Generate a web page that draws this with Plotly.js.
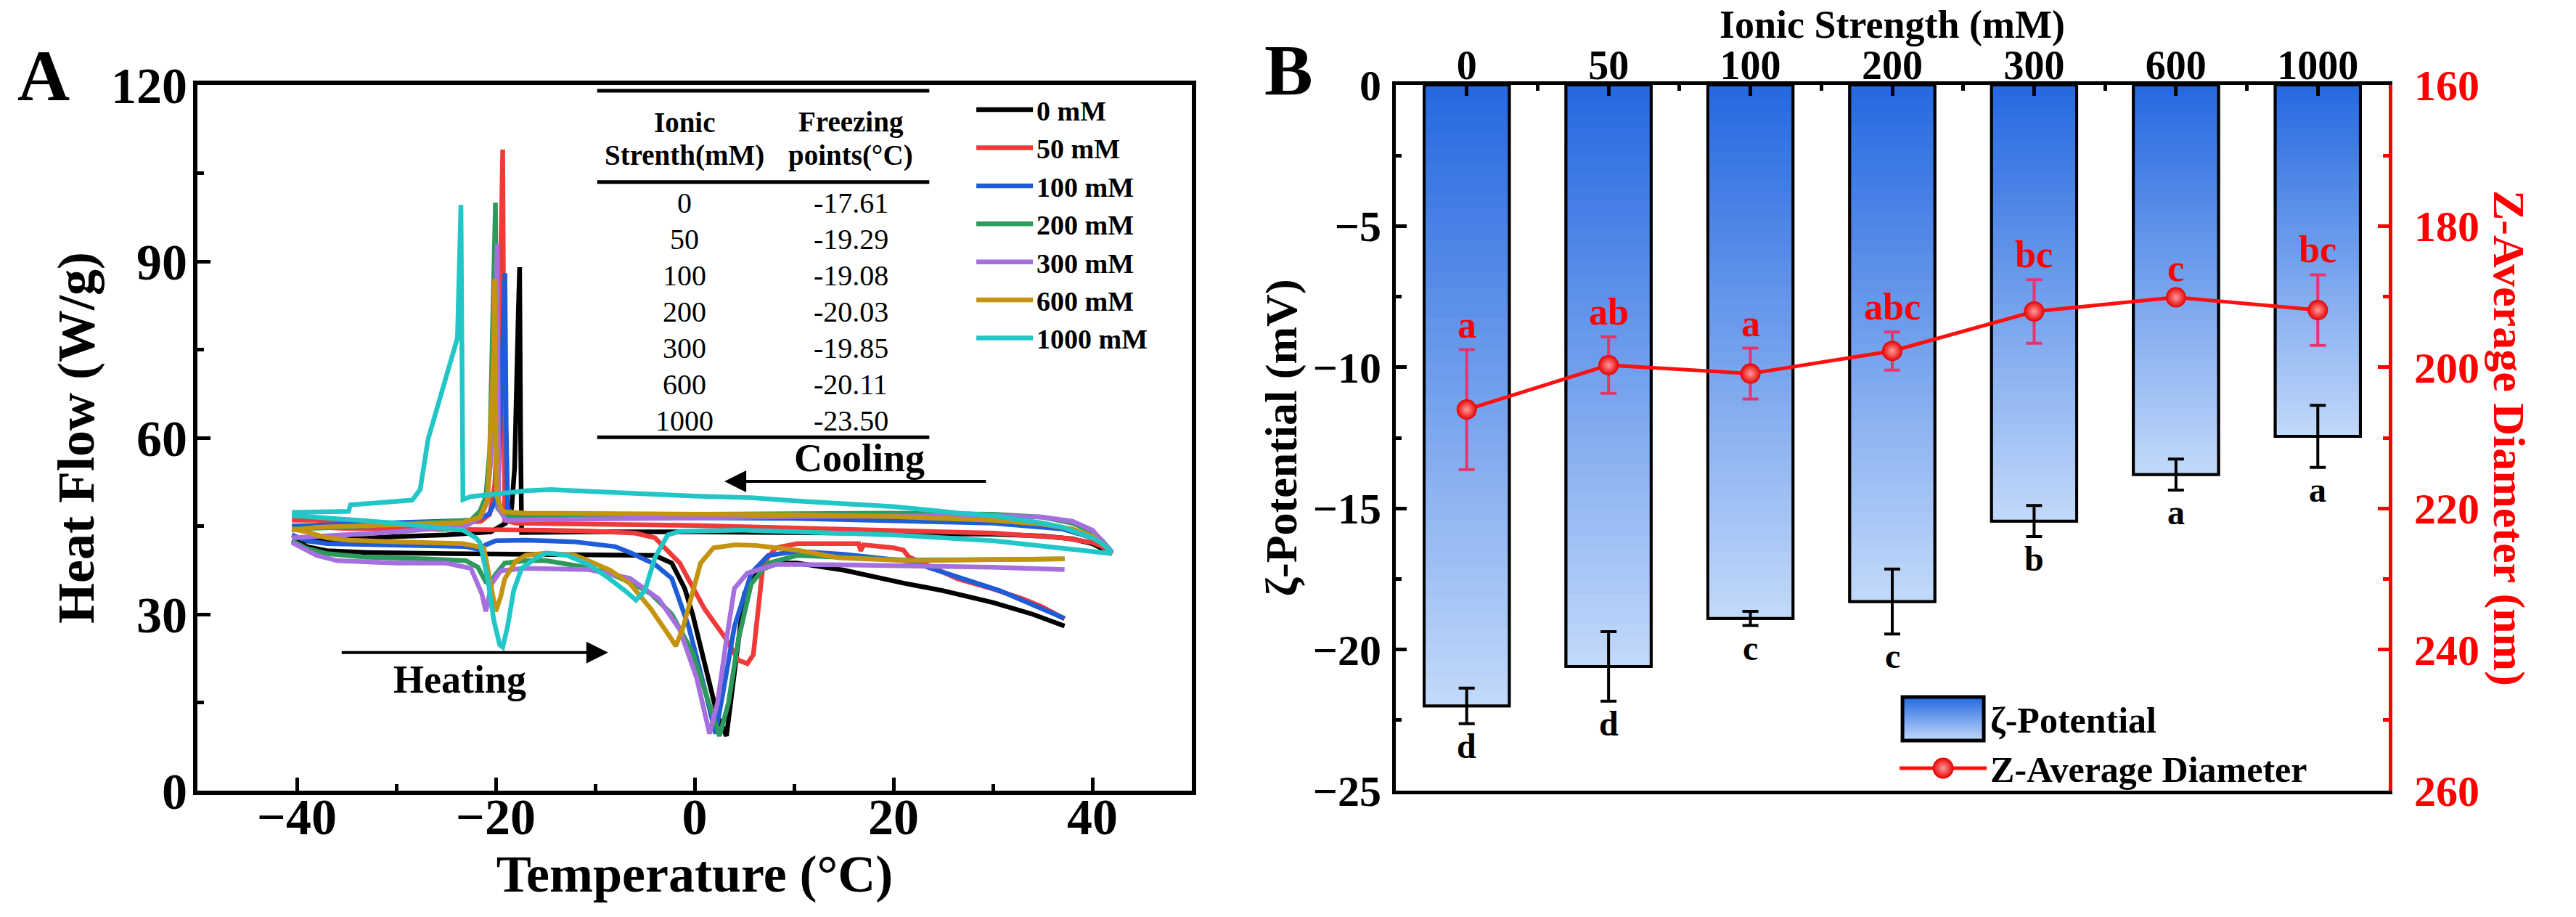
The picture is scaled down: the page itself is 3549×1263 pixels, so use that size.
<!DOCTYPE html>
<html><head><meta charset="utf-8">
<script src="https://cdn.plot.ly/plotly-3.0.1.min.js"></script>
<style>html,body{margin:0;padding:0;background:#fff}</style>
</head><body><div id="chart" style="width:3549px;height:1263px"></div>
<script>
// ================= Panel A : DSC curves (Temperature °C, Heat Flow W/g) =================
const seriesNames = ['0 mM','50 mM','100 mM','200 mM','300 mM','600 mM','1000 mM'];

// 0 mM
const coolT_0  = [42,41,40,38,35,30,20,10,0,-10,-17.4,-17.5,-17.6,-17.75,-17.9,-18.1,-18.4,-19,-20.5,-25,-30,-35,-40.5];
const coolHF_0 = [40.3,41.2,42,42.8,43.3,43.6,43.8,44,44,44,43.9,60,89,80,68,55,48,45.5,44,43.5,43.2,42.8,42.3];
const heatT_0  = [-40.5,-39,-37,-33,-25,-15,-8,-4,-2.3,-1,-0.2,1,2.3,3.2,3.8,4.4,5.0,6.5,8.5,10.3,15,21,25,30,34,37.2];
const heatHF_0 = [42.5,41.5,40.8,40.5,40.3,40.2,40.2,40,38.7,34.4,30,21.4,12.7,9.3,17.1,25.7,33.5,37.5,38.7,38.7,37.5,35.3,34,32,30,28];
// 50 mM
const coolT_50  = [42,41,40,37,30,20,10,0,-10,-18,-19.1,-19.2,-19.3,-19.45,-19.6,-19.8,-20.1,-20.6,-21.5,-25,-30,-35,-38,-40.5];
const coolHF_50 = [40.3,41.5,42.2,43,43.8,44.3,44.8,45.1,45.3,45.5,46,70,109,95,78,62,52,47,45.8,45.5,45.4,45.6,46,46];
const heatT_50  = [-40.5,-38,-35,-30,-25,-20,-15,-10,-6,-4,-1.5,1,3.2,4.4,5.3,5.9,6.3,6.9,8.2,10.3,14.5,16.5,16.7,17,20,21,21.5,24,26.5,30,33.2,35,37.2];
const heatHF_50 = [45,44.8,44.6,44.5,44.5,44.4,44.3,44.1,43.8,43,38.7,30.9,25.7,22.2,21.6,23.1,30,38.7,41.3,42,42,42,40.8,41.8,41.3,40.9,39.8,37.8,36,34.3,32.5,31.2,29.2];
// 100 mM
const coolT_100  = [42,41,40,37,30,20,10,0,-10,-18,-18.8,-18.95,-19.08,-19.25,-19.45,-19.7,-20.1,-20.7,-22,-30,-35,-40.5];
const coolHF_100 = [40.5,42,43,44.5,45.5,46,46.3,46.4,46.5,46.5,48,62,88,78,64,54,49,47,46,45.5,45.3,45];
const heatT_100  = [-40.5,-39,-37,-30,-23,-21.6,-21,-20,-17,-12,-8,-6.5,-4,-2.3,-0.6,1.05,2.1,2.9,4,5.7,7.4,10.3,15,21.6,26,30.7,34,37.2];
const heatHF_100 = [43.5,42.5,42,41.7,41.5,41,41.8,42.5,42.6,42.3,41.5,40.5,38.5,36.1,27.9,17.1,9.7,17.1,27.9,37,40,40.7,40.2,39,36.5,34,31.6,29.3];
// 200 mM
const coolT_200  = [42,41,40,38,35,30,20,10,0,-10,-19,-19.8,-19.95,-20.03,-20.15,-20.35,-20.6,-21,-21.6,-22.5,-30,-35,-40.5];
const coolHF_200 = [40.5,42.5,44,45.5,46.5,47,47.2,47.2,47,46.8,46.5,48,70,100,90,72,58,50,47.5,46,45.2,44.8,44.5];
const heatT_200  = [-40.5,-39,-37,-33,-27,-23,-21.8,-21,-20.6,-20,-19.1,-17,-14.9,-11,-8.6,-6,-4.4,-2.3,-0.2,1.5,2.5,3.4,4.4,5.7,7.4,10.3,15,21.6,30,37.2];
const heatHF_200 = [42.5,41.2,40.3,39.7,39.4,39.1,38,35.5,35.2,36.8,38.7,39.1,39.1,38,37,35,33.5,30,23.5,14.9,9.3,14.9,25.7,35.2,38.7,40,39.6,39.2,39.3,39.4];
// 300 mM
const coolT_300  = [42,41,40,38,35,30,20,10,0,-10,-19,-19.7,-19.78,-19.85,-20,-20.2,-20.5,-20.9,-21.5,-23,-30,-35,-40.5];
const coolHF_300 = [40.5,42.5,44.3,45.8,46.5,46.8,46.8,46.6,46.4,46.2,46,48,70,93,82,68,56,49,46.5,45,44,43.5,43];
const heatT_300  = [-40.5,-38,-35.9,-30,-25,-22.5,-21.4,-21,-20.4,-19.5,-17,-10.7,-6.5,-3.6,-1.5,0.2,1.5,2.3,3.2,4,5.3,8.2,15,21.6,30,37.2];
const heatHF_300 = [42.2,40,39.1,38.7,38.7,37.8,33.5,30.5,35.2,37.4,37.8,37.6,36.1,32.6,27.4,19.2,9.7,14.9,25.7,34.4,37,38.5,38.4,38.3,38,37.6];
// 600 mM
const coolT_600  = [42,41,40,38,35,30,20,10,0,-10,-17,-19.3,-19.9,-20.05,-20.11,-20.2,-20.5,-20.8,-21.6,-23.3,-25,-30,-35,-38,-40.5];
const coolHF_600 = [40.5,42,43.3,44.5,45.3,46,46.6,46.9,47,47.1,47.2,47.4,50,70,87,75,60,49.5,46.5,45.6,45.5,45.3,45,44.8,44.3];
const heatT_600  = [-40.5,-39,-37,-34.7,-30,-23.3,-21.2,-20.6,-20,-19.5,-19.1,-18,-17,-14.9,-12,-10.7,-8.5,-6.5,-4.4,-2.3,-1.9,-1.2,-0.6,0,0.6,1.9,4,6.1,10.3,14.5,21.6,30,37.2];
const heatHF_600 = [44.5,44,43,42.6,42.3,42,41.3,36,30.5,33,36,39,40,40.4,40,39.1,37.5,35.2,30.9,25.7,24.6,27.5,31,35,38.7,41.3,41.8,41.7,40.9,39.6,39.1,39.3,39.4];
// 1000 mM
const coolT_1000  = [42,41,40,37,35,30,26.6,20,10,5.7,0,-5,-10,-14.4,-17,-20,-22.5,-23.3,-23.4,-23.5,-23.85,-25.3,-26.8,-27.6,-28.4,-33,-34.6,-34.8,-40.5];
const coolHF_1000 = [40.5,42,43,44.8,45.5,46.8,47.2,48.3,49.3,49.8,50.1,50.5,50.9,51.2,51,50.5,50,49.5,75,99.6,77,68.5,59.8,51.2,49.4,48.8,48.6,47.5,47.3];
const heatT_1000  = [-40.5,-38,-34.7,-30,-27.5,-23.3,-22,-21.6,-20.8,-20.2,-19.6,-19.3,-18.8,-18.2,-17.4,-16,-14.9,-12.8,-10.7,-8.6,-7,-5.9,-5,-4,-2.7,-1.5,5,10,20,30,35,40,42];
const heatHF_1000 = [46.8,46.5,46.1,45.5,45,44.3,43,42.2,36,29,24.8,24.4,28,34,37.8,39.5,40.4,40,38.5,36.1,34,32.4,34,39.6,43.5,44.1,44.3,44.1,43.5,42.5,41.5,40.5,40.3];

// Inset table
const tableStrength = ['0','50','100','200','300','600','1000'];
const tableFreezing = ['-17.61','-19.29','-19.08','-20.03','-19.85','-20.11','-23.50'];

// ================= Panel B : zeta potential & Z-average =================
const categories   = ['0','50','100','200','300','600','1000'];
const zeta         = [-22.0,-20.6,-18.9,-18.3,-15.45,-13.8,-12.45];
const zetaErr      = [0.63,1.23,0.25,1.15,0.55,0.55,1.1];
const zetaLetters  = ['d','d','c','c','b','a','a'];
const zavg         = [206.0,199.7,200.9,197.7,192.1,190.1,191.9];
const zavgErr      = [8.5,4.0,3.6,2.7,4.5,0.6,5.0];
const zavgLetters  = ['a','ab','a','abc','bc','c','bc'];

// ================= Build =================
const FONT = '"Liberation Serif", "Times New Roman", Times, serif';
const colors = ['#000000','#F03A3A','#1F5CD8','#2C9A5A','#A570DE','#C4930F','#22C6C6'];
const coolT = [coolT_0,coolT_50,coolT_100,coolT_200,coolT_300,coolT_600,coolT_1000];
const coolHF = [coolHF_0,coolHF_50,coolHF_100,coolHF_200,coolHF_300,coolHF_600,coolHF_1000];
const heatT = [heatT_0,heatT_50,heatT_100,heatT_200,heatT_300,heatT_600,heatT_1000];
const heatHF = [heatHF_0,heatHF_50,heatHF_100,heatHF_200,heatHF_300,heatHF_600,heatHF_1000];

const traces = [];
seriesNames.forEach((nm, i) => {
  traces.push({
    type:'scatter', mode:'lines', name: nm, legend:'legend',
    x: coolT[i].concat([null], heatT[i]),
    y: coolHF[i].concat([null], heatHF[i]),
    line:{color: colors[i], width:6.5, shape:'linear'},
    xaxis:'x', yaxis:'y', hoverinfo:'skip', connectgaps:false
  });
});

const idx = categories.map((c, i) => i);
const BW = 0.6;
// legend entry + base fill for zeta bars
traces.push({
  type:'bar', name:'ζ-Potential', legend:'legend2', x: idx, y: zeta, width: BW,
  marker:{color:'#6C97EE', line:{color:'black', width:4}},
  xaxis:'x2', yaxis:'y2', hoverinfo:'skip'
});
// gradient fill (top dark blue -> bottom light blue)
const K = 40;
const c0 = [36,104,224], c1 = [194,217,250];
for (let k = 0; k < K; k++) {
  const t = (k + 0.5) / K;
  const col = 'rgb(' + c0.map((a, j) => Math.round(a + (c1[j] - a) * t)).join(',') + ')';
  traces.push({
    type:'bar', showlegend:false, x: idx,
    y: zeta.map(v => v / K), base: zeta.map(v => v * k / K), width: BW,
    marker:{color: col, line:{width:0}},
    xaxis:'x2', yaxis:'y2', hoverinfo:'skip'
  });
}
// outline + error bars
traces.push({
  type:'bar', showlegend:false, x: idx, y: zeta, width: BW,
  marker:{color:'rgba(0,0,0,0)', line:{color:'black', width:4}},
  error_y:{type:'data', array: zetaErr, visible:true, color:'black', thickness:4, width:11},
  xaxis:'x2', yaxis:'y2', hoverinfo:'skip'
});
// Z-average line
traces.push({
  type:'scatter', mode:'lines+markers', name:'Z-Average Diameter', legend:'legend2',
  x: idx, y: zavg,
  line:{color:'#FF1010', width:5},
  marker:{size:28, color:'#E60000', gradient:{type:'radial', color:'#FF9C9C'}, line:{width:0}},
  error_y:{type:'data', array: zavgErr, visible:true, color:'#E8336E', thickness:4, width:11},
  xaxis:'x2', yaxis:'y3', hoverinfo:'skip'
});

// ---------- annotations ----------
const ann = [];
ann.push({xref:'paper', yref:'paper', x:0.0169, y:1.013, text:'A', showarrow:false,
  font:{size:100, weight:'bold', family:FONT}, xanchor:'center', yanchor:'middle'});
ann.push({xref:'paper', yref:'paper', x:0.5004, y:1.021, text:'B', showarrow:false,
  font:{size:100, weight:'bold', family:FONT}, xanchor:'center', yanchor:'middle'});
// top axis title of panel B
ann.push({xref:'paper', yref:'paper', x:(1923+3291)/2/3549, y:1.0854, text:'Ionic Strength (mM)', showarrow:false,
  font:{size:54, weight:'bold', family:FONT}, xanchor:'center', yanchor:'middle'});

// table
const colX = [-1.0, 15.7];
const hdrFont = {size:39, weight:'bold', family:FONT};
ann.push({xref:'x', yref:'y', x:colX[0], y:113.7, text:'Ionic', showarrow:false, font:hdrFont});
ann.push({xref:'x', yref:'y', x:colX[0], y:108, text:'Strenth(mM)', showarrow:false, font:hdrFont});
ann.push({xref:'x', yref:'y', x:colX[1], y:113.7, text:'Freezing', showarrow:false, font:hdrFont});
ann.push({xref:'x', yref:'y', x:colX[1], y:108, text:'points(°C)', showarrow:false, font:hdrFont});
tableStrength.forEach((s, i) => {
  const yy = 99.9 - i * 6.17;
  ann.push({xref:'x', yref:'y', x:colX[0], y:yy, text:s, showarrow:false, font:{size:40, family:FONT}});
  ann.push({xref:'x', yref:'y', x:colX[1], y:yy, text:tableFreezing[i], showarrow:false, font:{size:40, family:FONT}});
});
// cooling / heating
ann.push({xref:'x', yref:'y', x:16.6, y:56.6, text:'Cooling', showarrow:false, font:{size:54, weight:'bold', family:FONT}});
ann.push({xref:'x', yref:'y', x:-23.6, y:18.9, text:'Heating', showarrow:false, font:{size:54, weight:'bold', family:FONT}});
ann.push({xref:'x', yref:'y', x:3.0, y:52.6, axref:'x', ayref:'y', ax:29.4, ay:52.6, text:'', showarrow:true,
  arrowhead:2, arrowsize:1.5, arrowwidth:4, arrowcolor:'black', standoff:0, startstandoff:0});
ann.push({xref:'x', yref:'y', x:-8.7, y:23.5, axref:'x', ayref:'y', ax:-35.6, ay:23.5, text:'', showarrow:true,
  arrowhead:2, arrowsize:1.5, arrowwidth:4, arrowcolor:'black', standoff:0, startstandoff:0});

// significance letters
idx.forEach(i => {
  ann.push({xref:'x2', yref:'y2', x:i, y: zeta[i] - zetaErr[i], text: zetaLetters[i], showarrow:false,
    yanchor:'top', yshift:-2, font:{size:48, weight:'bold', family:FONT, color:'black'}});
  ann.push({xref:'x2', yref:'y3', x:i, y: zavg[i] - zavgErr[i], text: zavgLetters[i], showarrow:false,
    yanchor:'bottom', yshift:4, font:{size:52, weight:'bold', family:FONT, color:'#FF0000'}});
});
// right axis title (reads top-to-bottom)
ann.push({xref:'paper', yref:'paper', x:0.9741, y:0.5, text:'Z-Average Diameter (nm)', textangle:90, showarrow:false,
  font:{size:62, weight:'bold', family:FONT, color:'#FF0000'}, xanchor:'center', yanchor:'middle'});

// table rules
const shapes = [119, 103.5, 60.1].map(yv => ({type:'line', xref:'x', yref:'y', x0:-9.8, x1:23.6, y0:yv, y1:yv,
  line:{color:'black', width:5}}));

const tickA = {size:70, weight:'bold', family:FONT, color:'black'};
const tickB = {size:60, weight:'bold', family:FONT, color:'black'};

const layout = {
  width:3549, height:1263,
  margin:{l:0, r:0, t:117, b:174, pad:0},
  paper_bgcolor:'white', plot_bgcolor:'white',
  font:{family:FONT, color:'black'},
  barmode:'overlay', bargap:0,
  showlegend:true,
  xaxis:{domain:[272/3549, 1642/3549], anchor:'y', range:[-50,50], tick0:0, dtick:20,
    showline:true, linewidth:6, linecolor:'black', mirror:true, showgrid:false, zeroline:false,
    ticks:'inside', ticklen:18, tickwidth:5, tickcolor:'black', tickfont:tickA, ticklabelstandoff:-30,
    minor:{ticks:'inside', ticklen:9, tickwidth:5, tickcolor:'black', dtick:10, showgrid:false},
    title:{text:'Temperature (°C)', font:{size:72, weight:'bold', family:FONT}, standoff:14}, automargin:false},
  yaxis:{domain:[0,1], anchor:'x', range:[0,120], tick0:0, dtick:30,
    showline:true, linewidth:6, linecolor:'black', mirror:true, showgrid:false, zeroline:false,
    ticks:'inside', ticklen:18, tickwidth:5, tickcolor:'black', tickfont:tickA, ticklabelstandoff:-6,
    minor:{ticks:'inside', ticklen:9, tickwidth:5, tickcolor:'black', dtick:15, showgrid:false},
    title:{text:'Heat Flow (W/g)', font:{size:72, weight:'bold', family:FONT}, standoff:2}, automargin:false},
  xaxis2:{domain:[1923/3549, 3291/3549], anchor:'y2', side:'top', range:[-0.5,6.5],
    tickmode:'array', tickvals: idx, ticktext: categories,
    showline:true, linewidth:5, linecolor:'black', mirror:true, showgrid:false, zeroline:false,
    ticks:'inside', ticklen:15, tickwidth:5, tickcolor:'black',
    tickfont:{size:56, weight:'bold', family:FONT, color:'black'}, ticklabelstandoff:-19,
    minor:{tickmode:'array', tickvals: idx.slice(1).map(i => i - 0.5), ticks:'inside', ticklen:8, tickwidth:5, tickcolor:'black', showgrid:false},
    automargin:false},
  yaxis2:{domain:[0,1], anchor:'x2', range:[-25,0], tick0:0, dtick:5,
    showline:true, linewidth:5, linecolor:'black', mirror:false, showgrid:false, zeroline:false,
    ticks:'inside', ticklen:15, tickwidth:5, tickcolor:'black', tickfont:tickB, ticklabelstandoff:3,
    minor:{ticks:'inside', ticklen:8, tickwidth:5, tickcolor:'black', dtick:2.5, showgrid:false},
    title:{text:'ζ-Potential (mV)', font:{size:62, weight:'bold', family:FONT}, standoff:4}, automargin:false},
  yaxis3:{overlaying:'y2', anchor:'x2', side:'right', range:[260,160], tick0:160, dtick:20,
    showline:true, linewidth:5, linecolor:'#FF0000', showgrid:false, zeroline:false,
    ticks:'inside', ticklen:15, tickwidth:5, tickcolor:'#FF0000',
    tickfont:{size:60, weight:'bold', family:FONT, color:'#FF0000'}, ticklabelstandoff:18,
    minor:{ticks:'inside', ticklen:8, tickwidth:5, tickcolor:'#FF0000', dtick:10, showgrid:false},
    automargin:false},
  legend:{x:0.3776, y:0.997, xanchor:'left', yanchor:'top', bgcolor:'rgba(0,0,0,0)', borderwidth:0,
    font:{size:38, weight:'bold', family:FONT}, tracegroupgap:0, itemwidth:78},
  legend2:{x:0.736, y:0.142, xanchor:'left', yanchor:'top', bgcolor:'rgba(0,0,0,0)', borderwidth:0,
    font:{size:50, weight:'bold', family:FONT}, tracegroupgap:0, itemwidth:120},
  shapes: shapes,
  annotations: ann
};

Plotly.newPlot('chart', traces, layout, {staticPlot:true, displayModeBar:false}).then(gd => {
  // enlarge the legend symbols of panel B to match the original figure's legend
  try {
    const ns = 'http://www.w3.org/2000/svg';
    const svg = gd.querySelector('svg.main-svg');
    let defs = svg.querySelector('defs');
    if (!defs) { defs = document.createElementNS(ns, 'defs'); svg.insertBefore(defs, svg.firstChild); }
    const grad = document.createElementNS(ns, 'linearGradient');
    grad.setAttribute('id', 'zetaLegendGrad');
    grad.setAttribute('x1', '0'); grad.setAttribute('y1', '0');
    grad.setAttribute('x2', '0'); grad.setAttribute('y2', '1');
    [['0', 'rgb(36,104,224)'], ['1', 'rgb(194,217,250)']].forEach(([o, c]) => {
      const s = document.createElementNS(ns, 'stop');
      s.setAttribute('offset', o); s.setAttribute('stop-color', c);
      grad.appendChild(s);
    });
    defs.appendChild(grad);
    const lg = gd.querySelector('g.legend2');
    if (lg) {
      const items = lg.querySelectorAll('g.traces');
      if (items.length) {
        const barPaths = items[0].querySelectorAll('g.legendpoints path');
        barPaths.forEach(p => {
          p.setAttribute('d', 'M56,30H-56V-30H56Z');
          p.style.fill = 'url(#zetaLegendGrad)';
          p.style.stroke = 'black';
          p.style.strokeWidth = '5px';
        });
      }
      const pt = lg.querySelector('path.scatterpts');
      if (pt) {
        const tr = pt.getAttribute('transform') || '';
        pt.setAttribute('transform', tr + ' scale(1.8)');
      }
    }
  } catch (e) { /* keep default legend symbols */ }
});
</script>
</body></html>
